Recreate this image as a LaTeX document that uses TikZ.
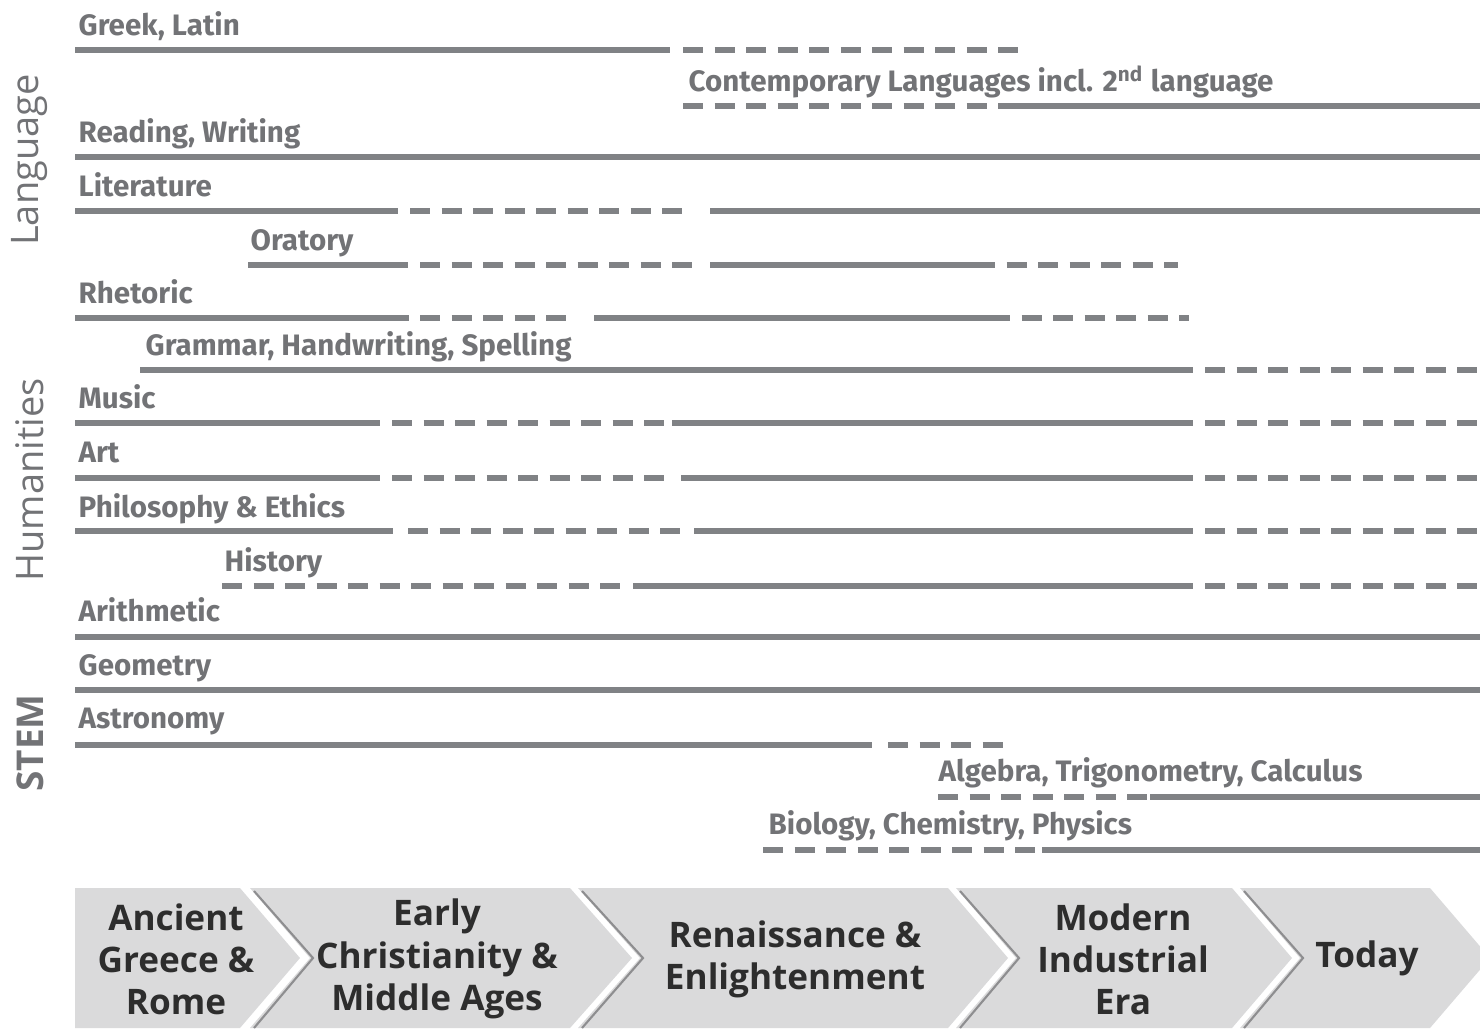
\documentclass[tikz,border=0pt]{standalone}
\usepackage{fontspec}
\usepackage{tikz}
\newfontfamily\subjfont{Fira Sans}
\newfontfamily\erafont{Open Sans}
\definecolor{bargray}{HTML}{808285}
\definecolor{txtgray}{HTML}{727376}
\definecolor{chevgray}{HTML}{DADADB}
\definecolor{chevedge}{HTML}{8E8E90}
\definecolor{eratext}{HTML}{2D2D2D}

\begin{document}
\begin{tikzpicture}[x=0.01cm, y=-0.01cm,
		solidbar/.style={bargray, line width=1.7pt},
		dashbar/.style={bargray, line width=1.7pt, dash pattern=on 2mm off 1.15mm},
		subj/.style={anchor=base west, inner sep=0pt, text=txtgray, font=\subjfont\bfseries\fontsize{8.4}{9}\selectfont},
		group/.style={rotate=90, inner sep=0pt, text=txtgray, font=\erafont\fontsize{10.8}{12}\selectfont},
		chev/.style={fill=chevgray},
		notch/.style={chevedge, line width=0.6pt},
		era/.style={align=center, inner sep=0pt, text=eratext, font=\erafont\bfseries\fontsize{10}{12}\selectfont}]
			\clip (0,0) rectangle (1480,1030);
			% Groups
			\node[group] (language) at (30,160) {Language};
			\node[group] (humanities) at (30,480) {Humanities};
			\node[group, font=\erafont\bfseries\fontsize{10.5}{12}\selectfont] (stem) at (30,743) {STEM};
			% Subjects
			\node[subj] (greek) at (78,35) {Greek, Latin};
			\node[subj] (contemp) at (688,91) {Contemporary Languages incl. 2\textsuperscript{nd} language};
			\node[subj] (reading) at (78,142) {Reading, Writing};
			\node[subj] (literature) at (78,196) {Literature};
			\node[subj] (oratory) at (250,250) {Oratory};
			\node[subj] (rhetoric) at (78,303) {Rhetoric};
			\node[subj] (grammar) at (145,355) {Grammar, Handwriting, Spelling};
			\node[subj] (music) at (78,408) {Music};
			\node[subj] (art) at (78,462) {Art};
			\node[subj] (philosophy) at (78,517) {Philosophy \& Ethics};
			\node[subj] (history) at (224,571) {History};
			\node[subj] (arithmetic) at (78,621) {Arithmetic};
			\node[subj] (geometry) at (78,675) {Geometry};
			\node[subj] (astronomy) at (78,728) {Astronomy};
			\node[subj] (algebra) at (938,781) {Algebra, Trigonometry, Calculus};
			\node[subj] (biology) at (768,834) {Biology, Chemistry, Physics};
			% Bars
			\draw[solidbar] (75,50) -- (670,50);
			\draw[dashbar] (683,50) -- (1023,50);
			\draw[dashbar] (683,106) -- (1013,106);
			\draw[solidbar] (1013,106) -- (1480,106);
			\draw[solidbar] (75,157) -- (1480,157);
			\draw[solidbar] (75,211) -- (398,211);
			\draw[dashbar] (410,211) -- (688,211);
			\draw[solidbar] (710,211) -- (1480,211);
			\draw[solidbar] (248,265) -- (408,265);
			\draw[dashbar] (420,265) -- (700,265);
			\draw[solidbar] (710,265) -- (975,265);
			\draw[dashbar] (975,265) -- (1178,265);
			\draw[solidbar] (75,318) -- (409,318);
			\draw[dashbar] (420,318) -- (570,318);
			\draw[solidbar] (594,318) -- (990,318);
			\draw[dashbar] (990,318) -- (1189,318);
			\draw[solidbar] (140,370) -- (1193,370);
			\draw[dashbar] (1205,370) -- (1480,370);
			\draw[solidbar] (75,423) -- (380,423);
			\draw[dashbar] (392,423) -- (672,423);
			\draw[solidbar] (672,423) -- (1193,423);
			\draw[dashbar] (1205,423) -- (1480,423);
			\draw[solidbar] (75,478) -- (380,478);
			\draw[dashbar] (392,478) -- (670,478);
			\draw[solidbar] (681,478) -- (1193,478);
			\draw[dashbar] (1205,478) -- (1480,478);
			\draw[solidbar] (75,531) -- (393,531);
			\draw[dashbar] (408,531) -- (684,531);
			\draw[solidbar] (694,531) -- (1193,531);
			\draw[dashbar] (1205,531) -- (1480,531);
			\draw[dashbar] (222,586) -- (622,586);
			\draw[solidbar] (633,586) -- (1193,586);
			\draw[dashbar] (1205,586) -- (1480,586);
			\draw[solidbar] (75,637) -- (1480,637);
			\draw[solidbar] (75,690) -- (1480,690);
			\draw[solidbar] (75,745) -- (872,745);
			\draw[dashbar] (888,745) -- (1005,745);
			\draw[dashbar] (938,797) -- (1150,797);
			\draw[solidbar] (1150,797) -- (1480,797);
			\draw[dashbar] (763,850) -- (1042,850);
			\draw[solidbar] (1042,850) -- (1480,850);
			% Eras
			\fill[chev] (75,888) -- (240,888) -- (300,958) -- (240,1028) -- (75,1028) -- cycle;
			\fill[chev] (250,888) -- (570,888) -- (632,958) -- (570,1028) -- (250,1028) -- (310,958) -- cycle;
			\fill[chev] (578,888) -- (948,888) -- (1008,958) -- (948,1028) -- (578,1028) -- (640,958) -- cycle;
			\fill[chev] (956,888) -- (1232,888) -- (1292,958) -- (1232,1028) -- (956,1028) -- (1016,958) -- cycle;
			\fill[chev] (1240,888) -- (1430,888) -- (1490,958) -- (1430,1028) -- (1240,1028) -- (1300,958) -- cycle;
			\draw[notch] (254,891) -- (313,958) -- (254,1028);
			\draw[notch] (582,891) -- (643,958) -- (582,1028);
			\draw[notch] (960,891) -- (1019,958) -- (960,1028);
			\draw[notch] (1244,891) -- (1303,958) -- (1244,1028);
			\node[era] (ancient) at (176,959) {Ancient\\Greece \&\\Rome};
			\node[era] (early) at (437,959) {Early\\Christianity \&\\Middle Ages};
			\node[era] (renaissance) at (795,959) {Renaissance \&\\Enlightenment};
			\node[era] (modern) at (1123,959) {Modern\\Industrial\\Era};
			\node[era] (today) at (1367,958) {Today};
		\end{tikzpicture}
\end{document}
